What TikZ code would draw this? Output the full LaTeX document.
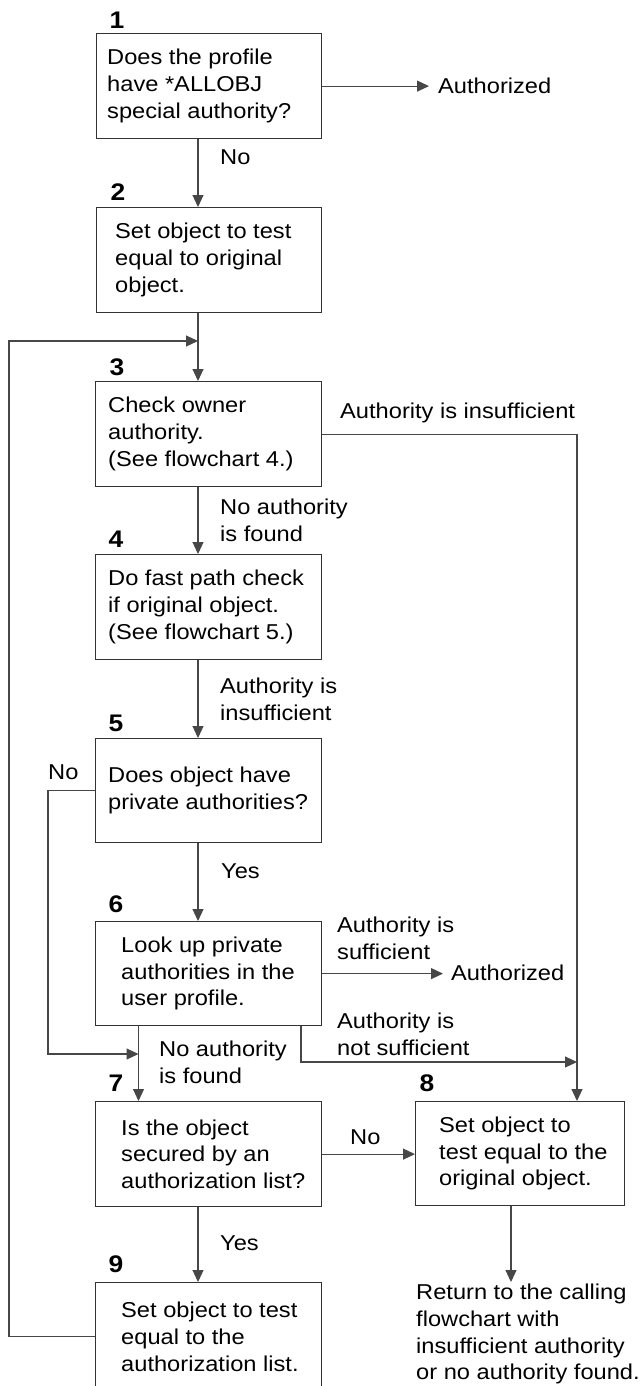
\documentclass[tikz,border=0pt]{standalone}
\usepackage{fontspec}
\setmainfont{Liberation Sans}[FakeStretch=1.1]
\usetikzlibrary{arrows.meta,calc}
\newcommand{\fsz}{\fontsize{21.5}{26.7}\selectfont}
\begin{document}
\begin{tikzpicture}[x=1pt,y=-1pt,
  line/.style={draw=black!72, line width=1.1pt},
  arr/.style={line, -{Triangle[length=12pt,width=11pt]}},
  box/.style={draw=black!80, line width=1.2pt, rectangle, anchor=north west,
              minimum width=226pt, minimum height=105pt, inner sep=0pt},
  txt/.style={anchor=west, align=left, inner sep=0pt, font=\fsz},
  lbl/.style={anchor=west, align=left, inner sep=0pt, font=\fsz},
  num/.style={inner sep=0pt, font=\fontsize{24}{24}\selectfont\bfseries}
]
\clip (0,0) rectangle (640,1386);
\useasboundingbox (0,0) rectangle (640,1386);

% boxes
\node[box, minimum width=225pt] (b1) at (96,33) {};
\node[box, minimum width=225pt] (b2) at (96,207) {};
\node[box] (b3) at (95,381) {};
\node[box] (b4) at (95,554) {};
\node[box, minimum height=104pt] (b5) at (95,738) {};
\node[box, minimum height=104pt] (b6) at (95,921) {};
\node[box] (b7) at (95,1101) {};
\node[box, minimum width=209pt, minimum height=104pt] (b8) at (415,1101) {};
\node[box, minimum height=108pt] (b9) at (95,1282) {};

% box texts
\node[txt] (t1) at ($(b1.west)+(11,0)$) {Does the profile\\have *ALLOBJ\\special authority?};
\node[txt] (t2) at ($(b2.west)+(19,0)$) {Set object to test\\equal to original\\object.};
\node[txt] (t3) at ($(b3.west)+(13,0)$) {Check owner\\authority.\\(See flowchart 4.)};
\node[txt] (t4) at ($(b4.west)+(13,0)$) {Do fast path check\\if original object.\\(See flowchart 5.)};
\node[txt] (t5) at ($(b5.west)+(13,0)$) {Does object have\\private authorities?};
\node[txt] (t6) at ($(b6.west)+(26,0)$) {Look up private\\authorities in the\\user profile.};
\node[txt] (t7) at ($(b7.west)+(26,0)$) {Is the object\\secured by an\\authorization list?};
\node[txt] (t8) at ($(b8.west)+(24,0)$) {Set object to\\test equal to the\\original object.};
\node[txt] (t9) at ($(b9.west)+(26,0)$) {Set object to test\\equal to the\\authorization list.};

% step numbers
\node[num] (n1) at (117,20) {1};
\node[num] (n2) at (118,192) {2};
\node[num] (n3) at (117,367) {3};
\node[num] (n4) at (116,539) {4};
\node[num] (n5) at (116,723) {5};
\node[num] (n6) at (116,904) {6};
\node[num] (n7) at (116,1083) {7};
\node[num] (n8) at (427,1083) {8};
\node[num] (n9) at (116,1264) {9};

% end texts
\node[lbl, inner xsep=9pt] (a1) at (429,85.5) {Authorized};
\node[lbl, inner xsep=8pt] (a2) at (443,973) {Authorized};
\node[anchor=north west, align=left, inner xsep=0pt, inner ysep=2pt, font=\fsz] (ret) at (416,1282)
  {Return to the calling\\flowchart with\\insufficient authority\\or no authority found.};

% connector labels
\node[lbl] (l1) at (220,157) {No};
\node[lbl] (l3) at (340,413) {Authority is insufficient};
\node[lbl] (l4) at (220,520) {No authority\\is found};
\node[lbl] (l5) at (220,699) {Authority is\\insufficient};
\node[lbl] (l5n) at (48,772) {No};
\node[lbl] (l6) at (221,871) {Yes};
\node[lbl] (l6s) at (337,938.5) {Authority is\\sufficient};
\node[lbl] (l6n) at (337,1034.5) {Authority is\\not sufficient};
\node[lbl] (l7) at (159,1062.5) {No authority\\is found};
\node[lbl] (l8) at (350,1137) {No};
\node[lbl] (l9) at (220,1243) {Yes};

% helper coordinates
\coordinate (m) at (198,0);
\coordinate (lx) at (9,0);
\coordinate (ly) at (0,341);
\coordinate (rx) at (577,0);
\coordinate (nx) at (48,0);
\coordinate (cx) at (138.5,0);
\coordinate (j5) at (138.5,1054);
\coordinate (nsx) at (301,0);
\coordinate (j8) at (577,1062);
\coordinate (rx2) at (511,0);

% connectors
\draw[arr] (b1.east) -- (b1.east -| a1.west);
\draw[arr] (b1.south -| m) -- (b2.north -| m);
\draw[arr] (b2.south -| m) -- (b3.north -| m);
\draw[arr] (b9.west) -- (lx |- b9.west) -- (lx |- ly) -- (m |- ly);
\draw[arr] (b3.east) -| (rx |- b8.north);
\draw[arr] (b3.south -| m) -- (b4.north -| m);
\draw[arr] (b4.south -| m) -- (b5.north -| m);
\draw[arr] (b5.west) -- (nx |- b5.west) |- (j5);
\draw[arr] (b5.south -| m) -- (b6.north -| m);
\draw[arr] (b6.east) -- (b6.east -| a2.west);
\draw[arr] (b6.south -| nsx) |- (j8);
\draw[arr] (b6.south -| cx) -- (b7.north -| cx);
\draw[arr] (b7.east) -- (b7.east -| b8.west);
\draw[arr] (b7.south -| m) -- (b9.north -| m);
\draw[arr] (b8.south -| rx2) -- (rx2 |- ret.north);
\end{tikzpicture}
\end{document}
